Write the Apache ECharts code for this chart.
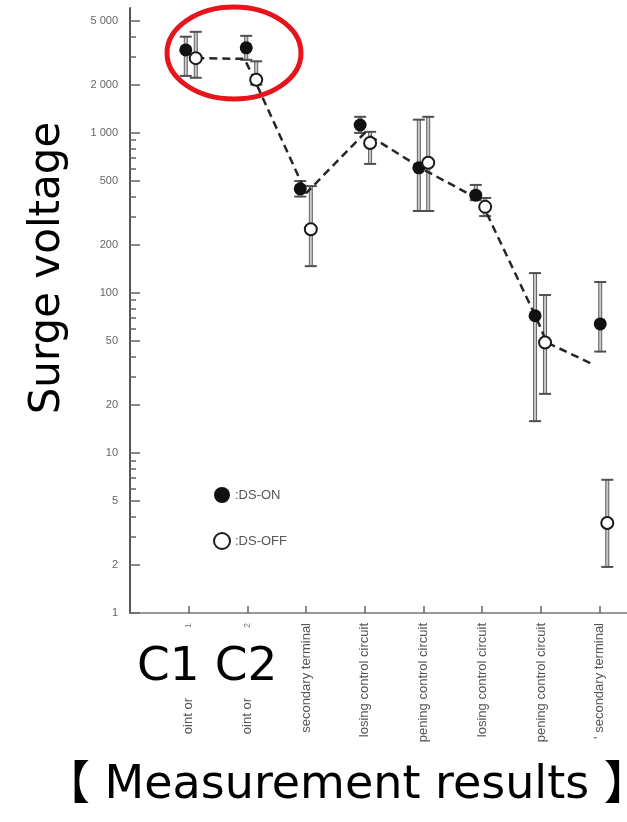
<!DOCTYPE html>
<html>
<head>
<meta charset="utf-8">
<script src="https://cdn.jsdelivr.net/npm/echarts@6/dist/echarts.min.js"></script>
<style>
  html, body { margin: 0; padding: 0; background: #fff; }
  #main { width: 627px; height: 822px; }
</style>
</head>
<body>
<div id="main"></div>
<script>
// category labels (cut off in the scan) and the little marks above the first two
var xLabels = ['oint or', 'oint or', 'secondary terminal', 'losing control circuit',
  'pening control circuit', 'losing control circuit', 'pening control circuit', "' secondary terminal"]
var xMarks = ['1', '2', '', '', '', '', '', '']

// DS-ON (filled)
var onX = [-0.05, 0.98, 1.90, 2.92, 3.92, 4.89, 5.90, 7.01]
var onY = [3300, 3400, 447, 1120, 605, 408, 72, 64]
var onLo = [2270, 2860, 400, 1000, 325, 380, 15.8, 43]
var onHi = [3990, 4040, 500, 1260, 1210, 473, 133, 117]

// DS-OFF (open)
var offX = [0.12, 1.15, 2.08, 3.09, 4.08, 5.05, 6.07, 7.13]
var offY = [2930, 2150, 250, 865, 650, 345, 49, 3.65]
var offLo = [2210, 2000, 147, 640, 325, 302, 23.4, 1.94]
var offHi = [4280, 2800, 465, 1015, 1260, 392, 97, 6.8]

// dashed trend line
var lineX = [0.13, 0.95, 1.12, 2.0, 3.0, 4.0, 4.97, 5.92, 6.1, 6.87]
var lineY = [2930, 2900, 2150, 420, 1000, 590, 380, 70, 49, 36]

// y ticks
var yMajor = [1, 2, 5, 10, 20, 50, 100, 200, 500, 1000, 2000, 5000]
var yMinor = [3, 4, 6, 7, 8, 9, 30, 40, 60, 70, 80, 90, 300, 400, 600, 700, 800, 900, 3000, 4000]
var yMax = 6030

function zip (a, b, c) {
  return a.map(function (v, i) { return c ? [v, b[i], c[i]] : [v, b[i]] })
}
function lg (arr) { return arr.map(function (v) { return Math.log10(v) }) }
function fmtNum (v) {
  var n = Math.round(Math.pow(10, v))
  return n >= 1000 ? Math.floor(n / 1000) + ' ' + String(n % 1000).padStart(3, '0') : String(n)
}

function errBar (params, api) {
  var top = api.coord([api.value(0), api.value(2)])
  var bot = api.coord([api.value(0), api.value(1)])
  var w = 6
  var st = { stroke: '#505050', lineWidth: 2 }
  return {
    type: 'group',
    children: [
      { type: 'rect', shape: { x: top[0] - 1.5, y: top[1], width: 3, height: bot[1] - top[1] }, style: { fill: '#c8c8c8', stroke: '#606060', lineWidth: 1 } },
      { type: 'line', shape: { x1: top[0] - w, y1: top[1], x2: top[0] + w, y2: top[1] }, style: st },
      { type: 'line', shape: { x1: bot[0] - w, y1: bot[1], x2: bot[0] + w, y2: bot[1] }, style: st }
    ]
  }
}

var myChart = echarts.init(document.getElementById('main'))
var tickFont = 'Liberation Sans'
var option = {
  backgroundColor: '#fff',
  animation: false,
  grid: { left: 130, top: 8, width: 499, bottom: 209, outerBoundsMode: 'none' },
  legend: {
    orient: 'vertical',
    left: 208,
    top: 482,
    itemGap: 29,
    itemWidth: 16,
    itemHeight: 16,
    textStyle: { color: '#555', fontSize: 13, fontFamily: tickFont },
    formatter: function (name) { return ':' + name },
    data: [{ name: 'DS-ON', icon: 'circle' }, { name: 'DS-OFF', icon: 'circle' }]
  },
  xAxis: {
    type: 'value',
    min: -1,
    max: 7.5,
    splitLine: { show: false },
    axisLine: { onZero: false, lineStyle: { color: '#777', width: 1.5 } },
    axisTick: { inside: true, length: 7, lineStyle: { color: '#666', width: 1.5 }, customValues: [0, 1, 2, 3, 4, 5, 6, 7] },
    axisLabel: {
      customValues: [0, 1, 2, 3, 4, 5, 6, 7],
      rotate: 90,
      margin: 10,
      color: '#555',
      fontSize: 13,
      fontFamily: tickFont,
      formatter: function (v) {
        var i = Math.round(v)
        if (xMarks[i]) return '{t|' + xLabels[i] + '}{g| }{n|' + xMarks[i] + '}'
        return xLabels[i] || ''
      },
      rich: {
        t: { fontSize: 13, color: '#555', fontFamily: tickFont },
        g: { width: 70 },
        n: { fontSize: 9, color: '#777', fontFamily: tickFont }
      }
    }
  },
  yAxis: [
    {
      type: 'log',
      logBase: 10,
      min: 1,
      max: yMax,
      position: 'left',
      splitLine: { show: false },
      axisLine: { show: true, onZero: false, lineStyle: { color: '#555', width: 2 } },
      axisTick: { show: false },
      axisLabel: { show: false }
    },
    {
      type: 'value',
      min: 0,
      max: Math.log10(yMax),
      position: 'left',
      offset: 0,
      splitLine: { show: false },
      axisLine: { show: false, onZero: false },
      axisTick: { inside: true, length: 10, lineStyle: { color: '#666', width: 1.5 }, customValues: lg(yMajor) },
      axisLabel: { customValues: lg(yMajor), formatter: fmtNum, margin: 12, color: '#666', fontSize: 11, fontFamily: tickFont }
    },
    {
      type: 'value',
      min: 0,
      max: Math.log10(yMax),
      position: 'left',
      offset: 0,
      splitLine: { show: false },
      axisLine: { show: false, onZero: false },
      axisTick: { inside: true, length: 6, lineStyle: { color: '#666', width: 1.5 }, customValues: lg(yMinor) },
      axisLabel: { show: false }
    }
  ],
  series: [
    {
      name: 'trend',
      type: 'line',
      data: zip(lineX, lineY),
      symbol: 'none',
      z: 2,
      lineStyle: { color: '#262626', width: 2.5, type: [8, 5] }
    },
    {
      name: 'on-err',
      type: 'custom',
      renderItem: errBar,
      data: zip(onX, onLo, onHi),
      encode: { x: 0, y: [1, 2] },
      z: 1
    },
    {
      name: 'off-err',
      type: 'custom',
      renderItem: errBar,
      data: zip(offX, offLo, offHi),
      encode: { x: 0, y: [1, 2] },
      z: 1
    },
    {
      name: 'DS-ON',
      type: 'scatter',
      data: zip(onX, onY),
      symbol: 'circle',
      symbolSize: 13,
      z: 3,
      itemStyle: { color: '#111', opacity: 1 }
    },
    {
      name: 'DS-OFF',
      type: 'scatter',
      data: zip(offX, offY),
      symbol: 'circle',
      symbolSize: 12,
      z: 4,
      itemStyle: { color: '#fff', borderColor: '#1a1a1a', borderWidth: 2, opacity: 1 }
    }
  ],
  graphic: [
    {
      type: 'ellipse',
      shape: { cx: 234, cy: 53, rx: 67, ry: 46 },
      style: { fill: 'none', stroke: '#e8141b', lineWidth: 5 },
      z: 10
    },
    {
      type: 'text',
      x: 48,
      y: 268,
      rotation: Math.PI / 2,
      style: { text: 'Surge voltage', font: '42px "DejaVu Sans"', fill: '#000', align: 'center', verticalAlign: 'middle' }
    },
    {
      type: 'text',
      x: 137,
      y: 668,
      style: { text: 'C1 C2', font: '47px "DejaVu Sans"', fill: '#000', align: 'left', verticalAlign: 'middle' }
    },
    {
      type: 'text',
      x: 44,
      y: 786,
      style: { text: '【 Measurement results 】', font: '46px "DejaVu Sans", "Noto Sans CJK JP"', fill: '#000', align: 'left', verticalAlign: 'middle' }
    }
  ]
}
myChart.setOption(option)
</script>
</body>
</html>
